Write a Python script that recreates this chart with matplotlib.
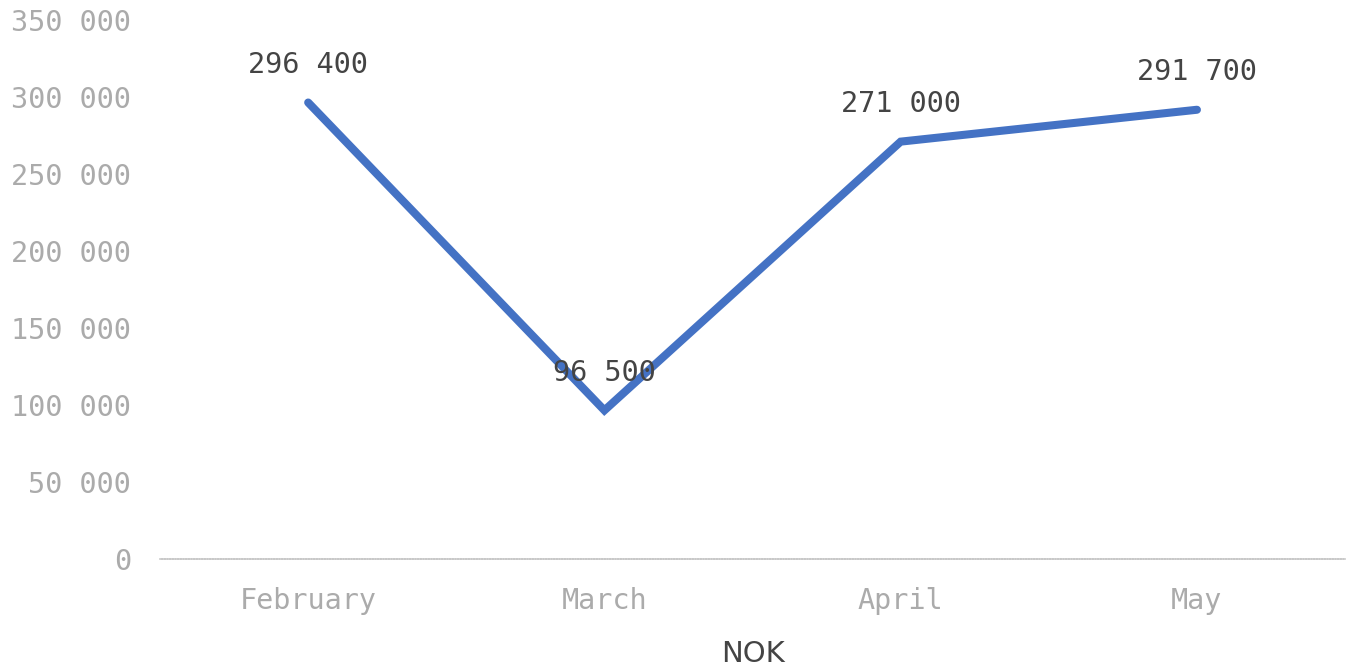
import matplotlib.pyplot as plt
from matplotlib.ticker import FuncFormatter

months = ["February", "March", "April", "May"]
values = [296400, 96500, 271000, 291700]
y_ticks = [0, 50000, 100000, 150000, 200000, 250000, 300000, 350000]
x_title = "NOK"

blue = "#4472c4"
mono = ["DejaVu Sans Mono"]

def spaced(v, pos=None):
    return "{:,}".format(int(v)).replace(",", " ")

fig = plt.figure(figsize=(13.54, 6.7), dpi=100)
ax = fig.add_axes([0.1182, 0.1657, 0.8752, 0.8045])

x = list(range(len(months)))
ax.plot(x, values, color=blue, lw=5.8, solid_capstyle="round", solid_joinstyle="miter", zorder=2)

for xi, v in zip(x, values):
    ax.annotate(spaced(v), (xi, v), xytext=(0, 27), textcoords="offset points",
                ha="center", va="center", fontsize=20.5, family=mono, color="#444444", zorder=3)

ax.set_xlim(-0.5, len(months) - 0.5)
ax.set_ylim(0, 350000)
ax.set_yticks(y_ticks)
ax.yaxis.set_major_formatter(FuncFormatter(spaced))
ax.set_xticks(x)
ax.set_xticklabels(months)

for s in ["top", "right", "left"]:
    ax.spines[s].set_visible(False)
ax.spines["bottom"].set_color("#c8c8c8")
ax.spines["bottom"].set_linewidth(1.2)
ax.spines["bottom"].set_linestyle((0, (1, 0.6)))

ax.tick_params(axis="both", length=0, labelsize=20.5, labelcolor="#ababab")
ax.tick_params(axis="y", pad=21)
ax.tick_params(axis="x", pad=20)
for lab in ax.get_xticklabels() + ax.get_yticklabels():
    lab.set_family(mono)

ax.set_xlabel(x_title, fontsize=21, color="#444444",
              family=["Liberation Sans Narrow", "DejaVu Sans"], labelpad=18)

plt.savefig("out.png", dpi=100)
